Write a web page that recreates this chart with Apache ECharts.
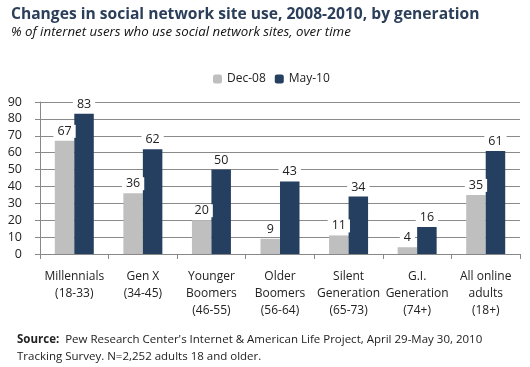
<!DOCTYPE html>
<html><head><meta charset="utf-8">
<script src="https://cdn.jsdelivr.net/npm/echarts@6/dist/echarts.min.js"></script>
<style>html,body{margin:0;padding:0;background:#fff}#c{width:530px;height:367px}</style>
</head><body><div id="c"></div>
<script>
const categories = ["Millennials\n(18-33)", "Gen X\n(34-45)", "Younger\nBoomers\n(46-55)", "Older\nBoomers\n(56-64)", "Silent\nGeneration\n(65-73)", "G.I.\nGeneration\n(74+)", "All online\nadults\n(18+)"];
const dec08 = [67, 36, 20, 9, 11, 4, 35];
const may10 = [83, 62, 50, 43, 34, 16, 61];
const yTicks = [0, 10, 20, 30, 40, 50, 60, 70, 80, 90];

const font = "'Open Sans', 'DejaVu Sans', sans-serif";
const chart = echarts.init(document.getElementById('c'));
const lbl = {
  show: true, position: 'top', distance: 3, color: '#222', fontSize: 12.5, fontFamily: font,
  backgroundColor: '#fff', padding: [0, 4, 0, 4]
};
chart.setOption({
  animation: false,
  title: [{
    text: 'Changes in social network site use, 2008-2010, by generation',
    left: 6, top: 2,
    textStyle: { fontFamily: font, fontWeight: 'bold', fontSize: 15.6, color: '#2b3e5a' }
  }, {
    text: '% of internet users who use social network sites, over time',
    left: 6, top: 21,
    textStyle: { fontFamily: font, fontStyle: 'italic', fontWeight: 'normal', fontSize: 13.3, color: '#111' }
  }, {
    text: '{b|Source:}  Pew Research Center\'s Internet & American Life Project, April 29-May 30, 2010\nTracking Survey. N=2,252 adults 18 and older.',
    left: 12, top: 326,
    textStyle: { fontFamily: font, fontSize: 11.5, fontWeight: 'normal', color: '#222', lineHeight: 17,
      rich: { b: { fontFamily: font, fontSize: 11.5, fontWeight: 'bold', color: '#222' } } }
  }],
  legend: {
    top: 68, left: 208, itemWidth: 9, itemHeight: 9, itemGap: 9,
    textStyle: { fontFamily: font, fontSize: 12, color: '#222' },
    data: ['Dec-08', 'May-10']
  },
  grid: { left: 40, right: 10, top: 102, bottom: 113, containLabel: false },
  xAxis: {
    type: 'category', data: categories,
    axisLine: { lineStyle: { color: '#888' } },
    axisTick: { show: true, length: 5, lineStyle: { color: '#888' } },
    axisLabel: { fontFamily: font, fontSize: 12, color: '#222', lineHeight: 17, margin: 14, interval: 0 }
  },
  yAxis: {
    type: 'value', min: 0, max: 90, interval: 10,
    axisLine: { show: true, lineStyle: { color: '#888' } },
    axisTick: { show: true, length: 5, lineStyle: { color: '#888' } },
    splitLine: { lineStyle: { color: '#8a8a8a' } },
    axisLabel: { fontFamily: font, fontSize: 12.5, color: '#222', margin: 18,
      formatter: v => yTicks.includes(v) ? String(v) : '' }
  },
  series: [{
    name: 'Dec-08', type: 'bar', data: dec08, barWidth: 19.5, barGap: '0%',
    itemStyle: { color: '#bfbfbf' }, label: lbl
  }, {
    name: 'May-10', type: 'bar', data: may10, barWidth: 19.5, barGap: '0%',
    itemStyle: { color: '#243f60' }, label: lbl
  }]
});
</script></body></html>
